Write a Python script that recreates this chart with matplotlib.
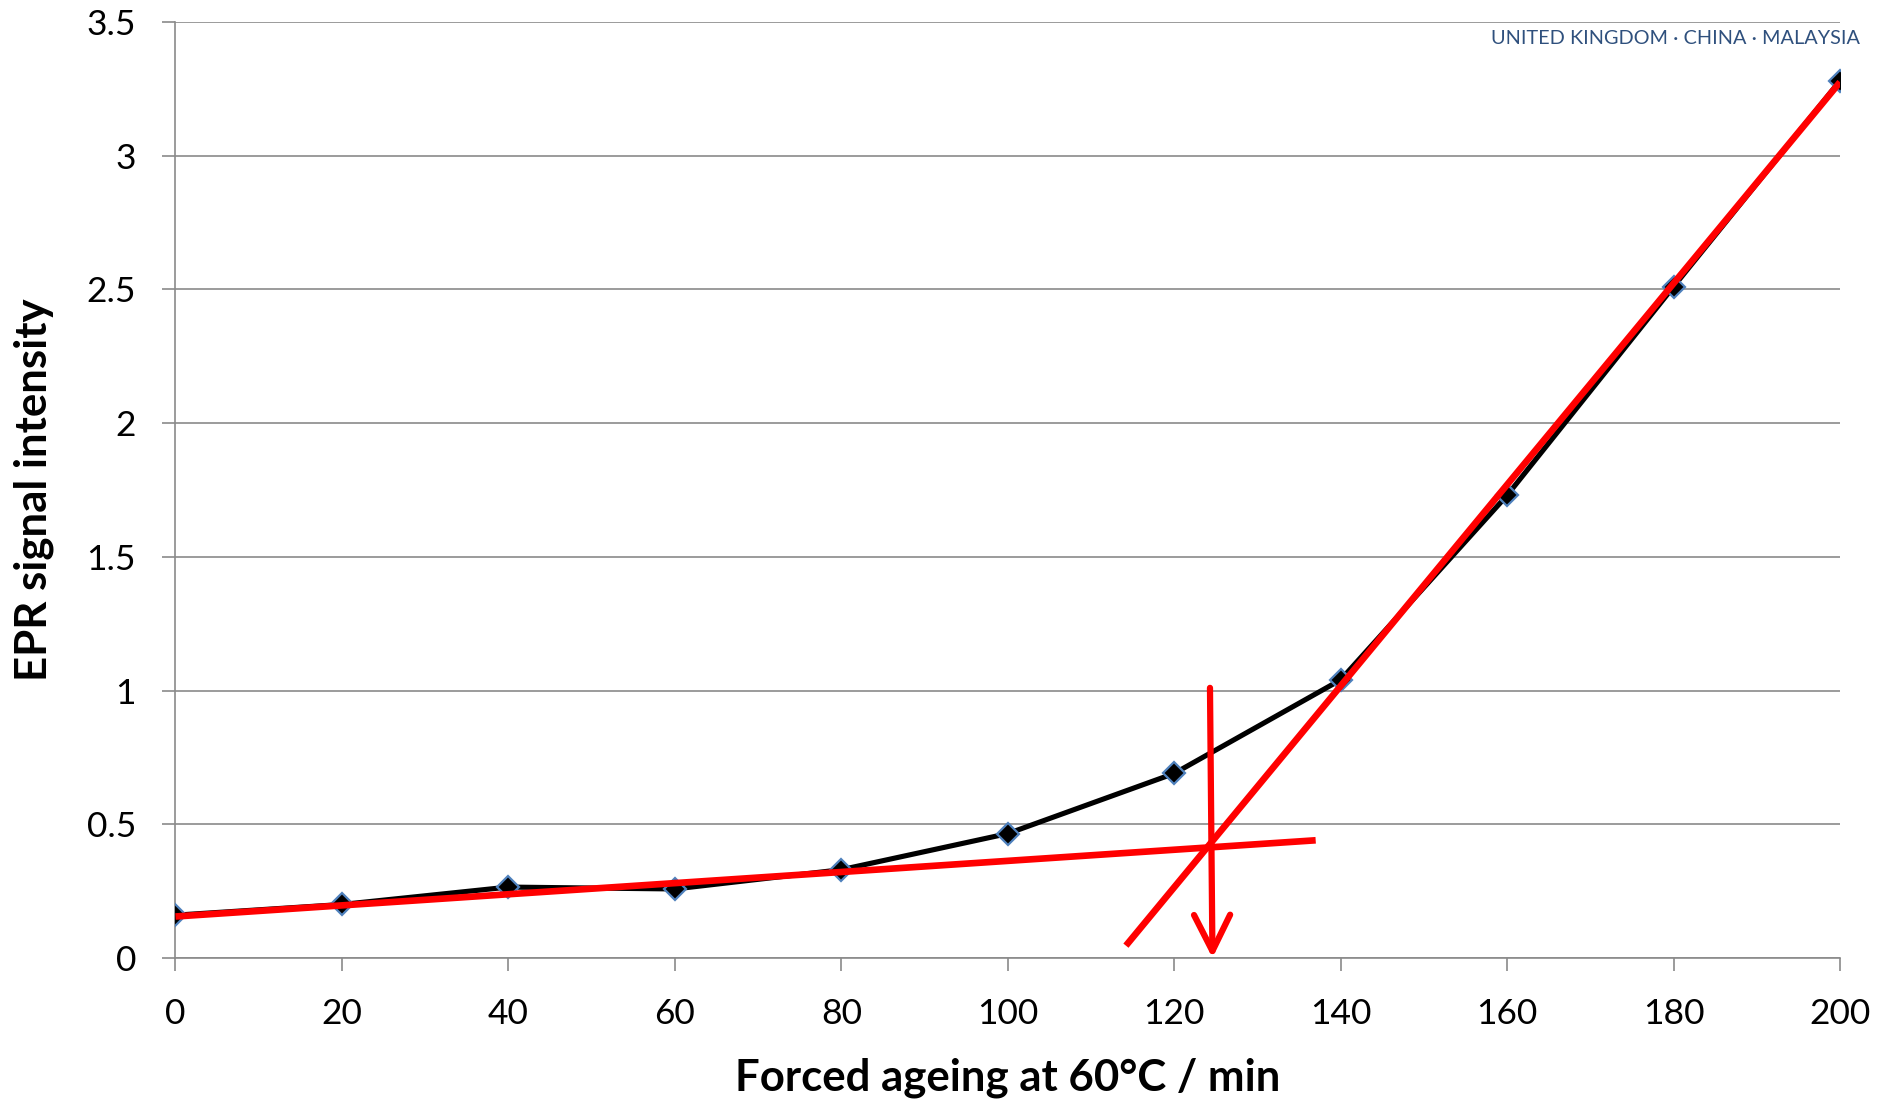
import numpy as np
import matplotlib
matplotlib.use("Agg")
import matplotlib.pyplot as plt
from matplotlib.ticker import FuncFormatter

plt.rcParams['font.family'] = ['Lato', 'DejaVu Sans']

# measured EPR signal vs forced ageing time
ageing_min = [0, 20, 40, 60, 80, 100, 120, 140, 160, 180, 200]
epr_signal = [0.16, 0.20, 0.265, 0.258, 0.33, 0.465, 0.69, 1.04, 1.73, 2.51, 3.28]

# hand-drawn tangent lines (endpoints in data units)
slow_x = [0, 137]
slow_y = [0.155, 0.44]
fast_x = [114.2, 200]
fast_y = [0.046, 3.275]
# onset arrow
onset_x = [124.3, 124.6]
onset_y = [1.01, 0.0]

x_ticks = list(range(0, 201, 20))
y_ticks = [0, 0.5, 1, 1.5, 2, 2.5, 3, 3.5]

grid_col = '#8a8a8a'

fig = plt.figure(figsize=(18.81, 11.03), dpi=100)
ax = fig.add_axes([0.0933, 0.1315, 0.9782 - 0.0933, 0.9801 - 0.1315])

ax.plot(ageing_min, epr_signal, color='black', lw=3.7, marker='D',
        mfc='black', mec='#4f81bd', ms=11, mew=1.6, zorder=3)

ax.plot(slow_x, slow_y, color='#ff0000', lw=4.8, solid_capstyle='butt', zorder=4)
ax.plot(fast_x, fast_y, color='#ff0000', lw=4.8, solid_capstyle='butt', zorder=4)
ax.annotate('', xy=(onset_x[1], onset_y[1]), xytext=(onset_x[0], onset_y[0]),
            arrowprops=dict(arrowstyle='->,head_length=1.3,head_width=0.65',
                            color='#ff0000', lw=4.5, mutation_scale=20,
                            shrinkA=0, shrinkB=0),
            zorder=4)

ax.set_xlim(0, 200)
ax.set_ylim(0, 3.5)
ax.set_xticks(x_ticks)
ax.set_yticks(y_ticks)
ax.yaxis.set_major_formatter(FuncFormatter(lambda v, p: f'{v:g}'))

ax.grid(axis='y', color=grid_col, lw=1.2)
ax.set_axisbelow(True)
for s in ['top', 'right']:
    ax.spines[s].set_visible(False)
for s in ['left', 'bottom']:
    ax.spines[s].set_color(grid_col)
    ax.spines[s].set_linewidth(1.2)
ax.tick_params(axis='both', colors=grid_col, width=1.2, length=9.5,
               labelsize=25.5, labelcolor='black')
ax.tick_params(axis='x', pad=19)
ax.tick_params(axis='y', pad=19)

ax.set_xlabel('Forced ageing at 60°C / min', fontsize=31.5, fontweight='bold', va='center')
ax.set_ylabel('EPR signal intensity', fontsize=31.5, fontweight='bold', va='center')
ax.xaxis.set_label_coords(0.5, -0.128)
ax.yaxis.set_label_coords(-0.085, 0.5)

fig.text(0.989, 0.9655, 'UNITED KINGDOM · CHINA · MALAYSIA', color='#2f507d',
         fontsize=14.3, ha='right', va='center')

fig.savefig('out.png', dpi=100)
